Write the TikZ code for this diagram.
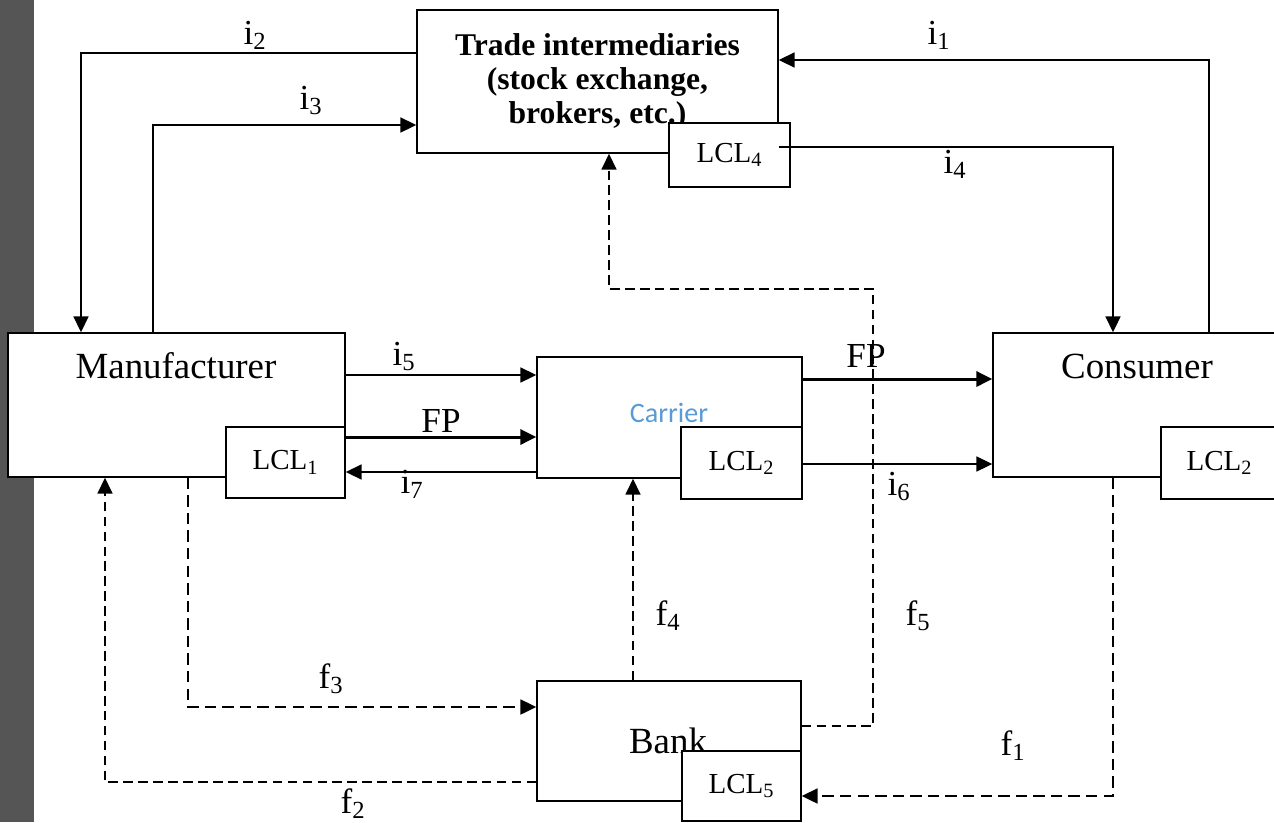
\documentclass[tikz,border=0pt]{standalone}
\usepackage{fontspec}
\setmainfont{Liberation Serif}
\newfontfamily\carlito{Carlito}
\usepackage{tikz}
\usetikzlibrary{arrows.meta}
\definecolor{stripgray}{RGB}{85,85,85}
\definecolor{carrierblue}{RGB}{91,155,213}

\begin{document}
\begin{tikzpicture}[x=0.02cm, y=-0.02cm,
    box/.style={draw, line width=0.85pt, fill=white, inner sep=0pt},
    lclbox/.style={box, font=\fontsize{16.5}{19}\selectfont},
    title/.style={font=\fontsize{21}{25}\selectfont, inner sep=0pt, anchor=base},
    lab/.style={font=\fontsize{20}{24}\selectfont, inner sep=0pt, anchor=base},
    flow/.style={line width=0.9pt, -{Triangle[length=9pt, width=8.5pt]}},
    fp/.style={flow, line width=1.7pt},
    money/.style={line width=0.8pt, dash pattern=on 5.5pt off 3pt, -{Triangle[length=9pt, width=8.5pt]}},
    bigmoney/.style={money, line width=1.1pt, dash pattern=on 6.5pt off 3.5pt}]
    \useasboundingbox (0,0) rectangle (1274,822);
    % page edge
    \fill[stripgray] (0,0) rectangle (34,822);
    % participants
    \node[box, minimum width=7.22cm, minimum height=2.86cm, align=center,
          font=\fontsize{18}{19.4}\selectfont\bfseries] (trade) at (597.5,81.5)
          {Trade intermediaries\\(stock exchange,\\brokers, etc.)};
    \node[box, minimum width=6.74cm, minimum height=2.88cm] (manu) at (176.5,405) {};
    \node[box, minimum width=5.30cm, minimum height=2.42cm] (carrier) at (669.5,417.5) {};
    \node[box, minimum width=5.94cm, minimum height=2.88cm] (consumer) at (1141.5,405) {};
    \node[box, minimum width=5.28cm, minimum height=2.40cm] (bank) at (669,741) {};
    \node[title] (manutext) at (176,378) {Manufacturer};
    \node[title, font=\fontsize{16}{19}\carlito, text=carrierblue] (carriertext) at (669,422) {Carrier};
    \node[title] (consumertext) at (1137,378) {Consumer};
    \node[title] (banktext) at (668,753) {Bank};
    % local circuits
    \node[lclbox, minimum width=2.42cm, minimum height=1.28cm] (lcl4) at (729.5,155) {LCL\textsubscript{4}};
    \node[lclbox, minimum width=2.38cm, minimum height=1.42cm] (lcl1) at (285.5,462.5) {LCL\textsubscript{1}};
    \node[lclbox, minimum width=2.42cm, minimum height=1.44cm] (lcl2c) at (741.5,463) {LCL\textsubscript{2}};
    \node[lclbox, minimum width=2.34cm, minimum height=1.44cm] (lcl2k) at (1219.5,463) {LCL\textsubscript{2}};
    \node[lclbox, minimum width=2.38cm, minimum height=1.40cm] (lcl5) at (741.5,786) {LCL\textsubscript{5}};
    % bends
    \coordinate (c1) at (1209,60);
    \coordinate (c2) at (81,53);
    \coordinate (c3) at (153,125);
    \coordinate (c4) at (1113,147);
    \coordinate (y5) at (0,375);
    \coordinate (yfp1) at (0,437);
    \coordinate (y7) at (0,472);
    \coordinate (yfp2) at (0,379);
    \coordinate (y6) at (0,464);
    \coordinate (d1) at (1113,796);
    \coordinate (d2) at (105,782);
    \coordinate (d3) at (188,707);
    \coordinate (d4) at (633,0);
    \coordinate (d5a) at (873,726);
    \coordinate (d5b) at (609,289);
    % information flows
    \draw[flow] (consumer.north -| c1) |- (trade.east |- c1);
    \draw[flow] (trade.west |- c2) -| (manu.north -| c2);
    \draw[flow] (manu.north -| c3) |- (trade.west |- c3);
    \draw[flow] (trade.east |- c4) -| (consumer.north -| c4);
    \draw[flow] (manu.east |- y5) -- (carrier.west |- y5);
    \draw[fp] (manu.east |- yfp1) -- (carrier.west |- yfp1);
    \draw[flow] (carrier.west |- y7) -- (lcl1.east |- y7);
    \draw[fp] (carrier.east |- yfp2) -- (consumer.west |- yfp2);
    \draw[flow] (lcl2c.east |- y6) -- (consumer.west |- y6);
    % financial flows
    \draw[bigmoney] (consumer.south -| d1) |- (lcl5.east |- d1);
    \draw[money] (bank.west |- d2) -| (manu.south -| d2);
    \draw[bigmoney] (manu.south -| d3) |- (bank.west |- d3);
    \draw[money] (bank.north -| d4) -- (carrier.south -| d4);
    \draw[money] (bank.east |- d5a) -- (d5a) |- (d5b) -- (trade.south -| d5b);
    % labels
    \node[lab] (li1) at (939,44) {i\textsubscript{1}};
    \node[lab] (li2) at (255,44) {i\textsubscript{2}};
    \node[lab] (li3) at (311,109) {i\textsubscript{3}};
    \node[lab] (li4) at (955,173) {i\textsubscript{4}};
    \node[lab] (li5) at (404,365) {i\textsubscript{5}};
    \node[lab] (lfp1) at (441,432) {FP};
    \node[lab] (li7) at (412,493) {i\textsubscript{7}};
    \node[lab] (lfp2) at (866,367) {FP};
    \node[lab] (li6) at (899,495) {i\textsubscript{6}};
    \node[lab] (lf1) at (1013,755) {f\textsubscript{1}};
    \node[lab] (lf2) at (353,813) {f\textsubscript{2}};
    \node[lab] (lf3) at (331,688) {f\textsubscript{3}};
    \node[lab] (lf4) at (668,625) {f\textsubscript{4}};
    \node[lab] (lf5) at (918,625) {f\textsubscript{5}};
\end{tikzpicture}
\end{document}
